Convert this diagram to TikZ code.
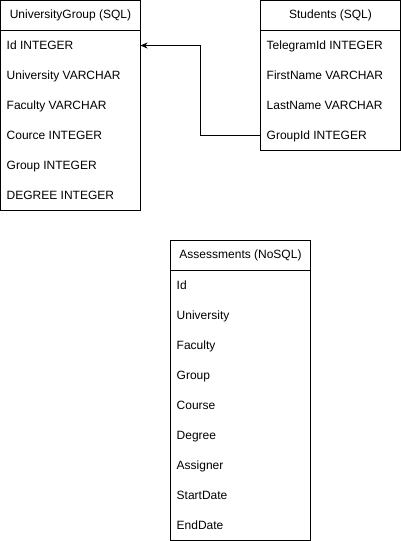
\documentclass[tikz,border=0pt]{standalone}
\usepackage{fontspec}
\setmainfont{Liberation Sans}
\usepackage{tikz}
\usetikzlibrary{arrows.meta, positioning, calc}
\tikzset{
  tablehead/.style={
    rectangle, draw=black, line width=1pt, outer sep=0pt,
    minimum width=140pt, minimum height=30pt,
    align=center, font=\fontsize{12pt}{14pt}\selectfont
  },
  tablebody/.style={
    rectangle, draw=black, line width=1pt, outer sep=0pt,
    minimum width=140pt, minimum height=#1
  },
  field/.style={
    anchor=west, inner sep=0pt, text height=9pt, text depth=1pt,
    font=\fontsize{12pt}{14pt}\selectfont
  },
  fk/.style={-{Stealth[length=7pt,width=6pt]}, line width=1pt, draw=black}
}
\begin{document}
\begin{tikzpicture}[x=1pt, y=-1pt]
  \useasboundingbox (0,0) rectangle (401,541);

  % relational tables
  \node[tablehead] (ughead) at (70.5,15.5) {UniversityGroup (SQL)};
  \node[tablebody=180pt, below=0pt of ughead] (ugbody) {};
  \node[tablehead, right=120pt of ughead] (sthead) {Students (SQL)};
  \node[tablebody=120pt, below=0pt of sthead] (stbody) {};

  \foreach \txt [count=\i] in {Id INTEGER, University VARCHAR, Faculty VARCHAR,
      Cource INTEGER, Group INTEGER, DEGREE INTEGER}
    \node[field] (ug-\i) at ($(ughead.south west)+(6,{30*\i-15})$) {\txt};
  \foreach \txt [count=\i] in {TelegramId INTEGER, FirstName VARCHAR,
      LastName VARCHAR, GroupId INTEGER}
    \node[field] (st-\i) at ($(sthead.south west)+(6,{30*\i-15})$) {\txt};

  % document collection
  \node[tablehead] (ashead) at (240.5,255.5) {Assessments (NoSQL)};
  \node[tablebody=270pt, below=0pt of ashead] (asbody) {};
  \foreach \txt [count=\i] in {Id, University, Faculty, Group, Course,
      Degree, Assigner, StartDate, EndDate}
    \node[field] (as-\i) at ($(ashead.south west)+(6,{30*\i-15})$) {\txt};

  \draw[fk] (stbody.west |- st-4) -- ++(-60pt,0) |- (ugbody.east |- ug-1);
\end{tikzpicture}
\end{document}
